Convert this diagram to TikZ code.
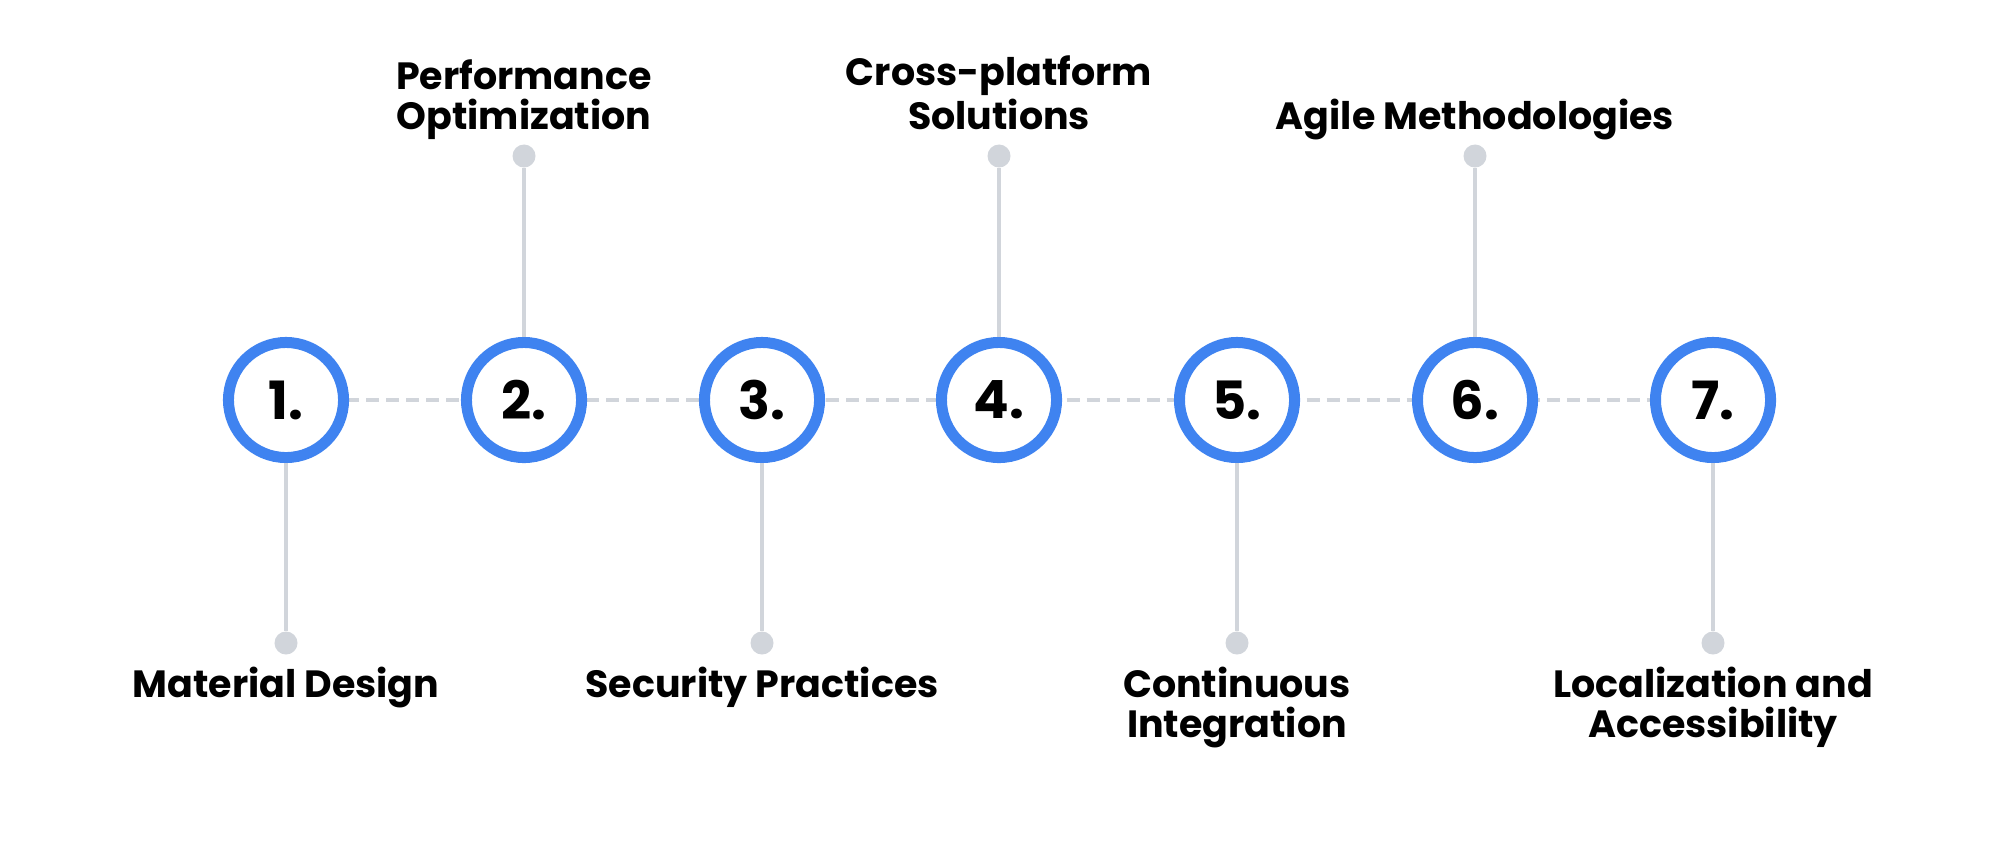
\documentclass[tikz,border=0pt]{standalone}
\usepackage{fontspec}
\setmainfont{Poppins}
\usepackage{tikz}
\usetikzlibrary{positioning}
\definecolor{stepblue}{HTML}{3F83F0}
\definecolor{linegray}{HTML}{D1D5DB}

\begin{document}
\begin{tikzpicture}[x=0.01cm,y=-0.01cm,
  stepnode/.style={draw=stepblue,line width=0.11cm,circle,fill=white,minimum size=1.15cm,inner sep=0pt,font=\fontsize{15}{15}\selectfont\bfseries},
  pin/.style={circle,fill=linegray,minimum size=0.23cm,inner sep=0pt},
  stem/.style={draw=linegray,line width=0.04cm},
  link/.style={draw=linegray,line width=0.04cm,dash pattern=on 0.13cm off 0.07cm},
  toplabel/.style={anchor=south,inner sep=0pt,align=center,font=\fontsize{10.8}{11.4}\selectfont\bfseries},
  botlabel/.style={anchor=north,inner sep=0pt,align=center,font=\fontsize{10.8}{11.4}\selectfont\bfseries}]
\useasboundingbox (0,0) rectangle (2000,848);

% Dashed timeline between the steps
\coordinate (L1) at (286,400);
\coordinate (L7) at (1713,400);
\draw[link] (L1) -- (L7);

% Steps
\node[stepnode] (S1) at (286,400) {1.};
\node[stepnode] (S2) at (524,400) {2.};
\node[stepnode] (S3) at (762,400) {3.};
\node[stepnode] (S4) at (999,400) {4.};
\node[stepnode] (S5) at (1237,400) {5.};
\node[stepnode] (S6) at (1475,400) {6.};
\node[stepnode] (S7) at (1713,400) {7.};

% Pins above (even steps) and below (odd steps)
\node[pin] (P1) at (286,643) {};
\node[pin] (P2) at (524,156) {};
\node[pin] (P3) at (762,643) {};
\node[pin] (P4) at (999,156) {};
\node[pin] (P5) at (1237,643) {};
\node[pin] (P6) at (1475,156) {};
\node[pin] (P7) at (1713,643) {};
\draw[stem] (S1) -- (P1);
\draw[stem] (S2) -- (P2);
\draw[stem] (S3) -- (P3);
\draw[stem] (S4) -- (P4);
\draw[stem] (S5) -- (P5);
\draw[stem] (S6) -- (P6);
\draw[stem] (S7) -- (P7);

% Labels
\node[botlabel] (T1) at (286,666) {Material Design};
\node[toplabel] (T2) at (524,142) {Performance\\Optimization\strut};
\node[botlabel] (T3) at (762,666) {Security Practices};
\node[toplabel] (T4) at (999,142) {Cross-platform\\Solutions\strut};
\node[botlabel] (T5) at (1237,666) {Continuous\\Integration};
\node[toplabel] (T6) at (1475,142) {Agile Methodologies\strut};
\node[botlabel] (T7) at (1713,666) {Localization and\\Accessibility};
\end{tikzpicture}
\end{document}
